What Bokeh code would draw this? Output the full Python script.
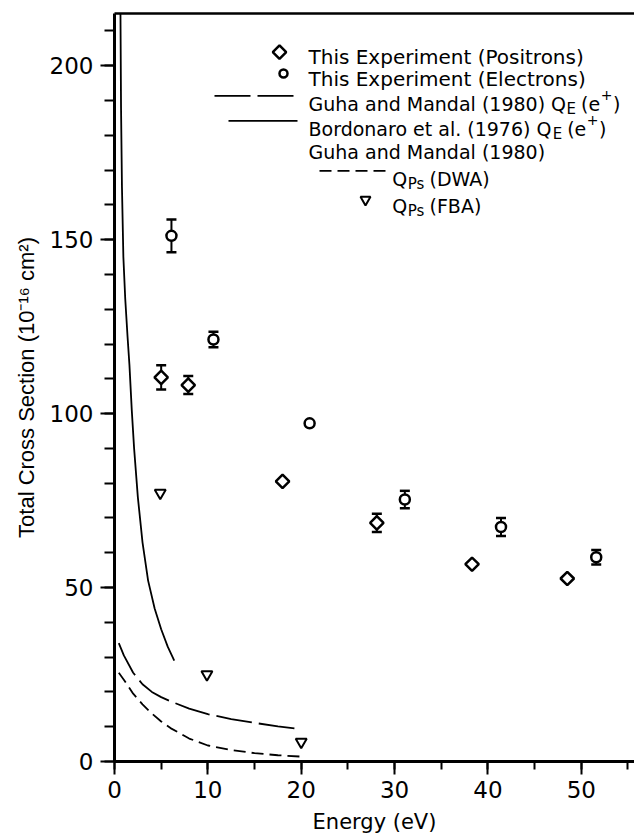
import numpy as np
from bokeh.plotting import figure
from bokeh.models import (ColumnDataSource, Whisker, TeeHead, Label, Arrow, LinearAxis,
                          Range1d, FixedTicker, SingleIntervalTicker)
from bokeh.embed import file_html
from bokeh.resources import INLINE

# ---------------- data ----------------
pos_energy = [5.0, 7.9, 18.0, 28.1, 38.3, 48.5]
pos_q = [110.4, 108.2, 80.5, 68.6, 56.7, 52.6]
pos_err = [3.5, 2.6, 0.0, 2.6, 0.0, 0.0]

ele_energy = [6.1, 10.6, 20.9, 31.1, 41.4, 51.6]
ele_q = [151.1, 121.3, 97.2, 75.3, 67.4, 58.7]
ele_err = [4.7, 2.2, 0.0, 2.5, 2.6, 2.1]

fba_energy = [4.9, 9.9, 20.0]
fba_q = [77.2, 25.0, 5.6]

bord_energy = [0.64, 0.7, 0.8, 0.95, 1.15, 1.4, 1.6, 1.85, 2.1, 2.5, 3.0, 3.6, 4.3, 5.0, 5.7, 6.4]
bord_q = [215, 188, 165, 145, 133, 122, 114, 101, 90, 76, 63, 52, 44, 38, 33, 29]

guha_energy = [0.46, 1, 2, 3, 4, 5, 6, 8, 10, 12.5, 15, 17.5, 20]
guha_q = [34.0, 30.5, 25.5, 22.2, 20.0, 18.5, 17.3, 15.2, 13.6, 12.2, 11.1, 10.1, 9.3]

dwa_energy = [0.46, 1, 2, 3, 4, 5, 6, 8, 10, 12.5, 15, 17.5, 20]
dwa_q = [25.5, 23.5, 19.5, 16.4, 13.8, 11.5, 9.6, 6.6, 4.6, 3.3, 2.4, 1.8, 1.4]

x_label = "Energy (eV)"
y_label = "Total Cross Section (10\u207b\u00b9\u2076 cm\u00b2)"

# ---------------- layout constants ----------------
X_END = 55.7
Y_END = 215
FL, FB, FW, FH = 114, 764, 520, 751   # frame left / bottom / width / height (page px)

p = figure(width=634, height=836, x_range=Range1d(0, X_END), y_range=Range1d(0, Y_END),
           output_backend="svg", toolbar_location=None,
           min_border_left=114, min_border_right=0, min_border_top=13, min_border_bottom=72,
           x_axis_label=x_label, y_axis_label=y_label)
p.grid.visible = False
p.outline_line_color = None
p.background_fill_color = "white"
p.border_fill_color = "white"

xa = p.xaxis[0]
ya = p.yaxis[0]
xa.ticker = SingleIntervalTicker(interval=10, num_minor_ticks=2)
ya.ticker = SingleIntervalTicker(interval=50, num_minor_ticks=5)
for ax in (xa, ya):
    ax.axis_line_width = 3
    ax.axis_line_color = "black"
    ax.major_tick_line_width = 2
    ax.minor_tick_line_width = 2
    ax.major_tick_line_color = "black"
    ax.minor_tick_line_color = "black"
    ax.major_tick_in = 0
    ax.minor_tick_in = 0
    ax.major_label_text_font = "DejaVu Sans"
    ax.major_label_text_font_size = "23px"
    ax.major_label_text_color = "black"
    ax.axis_label_text_font_style = "normal"
    ax.axis_label_text_color = "black"
xa.major_tick_out = 13
xa.minor_tick_out = 8
xa.major_label_standoff = 6
xa.axis_label_text_font = "DejaVu Sans"
xa.axis_label_text_font_size = "21px"
xa.axis_label_standoff = 9
ya.major_tick_out = 14
ya.minor_tick_out = 10
ya.major_label_standoff = 7
ya.axis_label_text_font = "Liberation Sans"
ya.axis_label_text_font_size = "22px"
ya.axis_label_standoff = 8

top = LinearAxis(ticker=FixedTicker(ticks=[], minor_ticks=[]), axis_line_width=2.5,
                 axis_line_color="black", major_label_text_font_size="0px",
                 major_tick_out=0, minor_tick_out=0, major_label_standoff=0)
p.add_layout(top, "above")

# ---------------- curves ----------------
p.line(bord_energy, bord_q, line_width=1.8, line_color="black")
p.line(guha_energy, guha_q, line_width=1.8, line_color="black", line_dash="36 7")
p.line(dwa_energy, dwa_q, line_width=1.8, line_color="black", line_dash="12 6")


# ---------------- error bars ----------------
def err_source(xs, ys, es):
    keep = [i for i, e in enumerate(es) if e > 0]
    return ColumnDataSource(dict(x=[xs[i] for i in keep],
                                 lower=[ys[i] - es[i] for i in keep],
                                 upper=[ys[i] + es[i] for i in keep]))


for src in (err_source(pos_energy, pos_q, pos_err), err_source(ele_energy, ele_q, ele_err)):
    w = Whisker(source=src, base="x", lower="lower", upper="upper",
                line_width=2, line_color="black", level="underlay",
                upper_head=TeeHead(size=10, line_width=2.5, line_color="black"),
                lower_head=TeeHead(size=10, line_width=2.5, line_color="black"))
    p.add_layout(w)

# ---------------- markers ----------------
p.scatter(pos_energy, pos_q, marker="square", angle=np.pi / 4, size=9.5,
          fill_color="white", line_color="black", line_width=2.5)
p.scatter(ele_energy, ele_q, marker="circle", size=10,
          fill_color="white", line_color="black", line_width=2.5)
p.scatter(fba_energy, fba_q, marker="inverted_triangle", size=11,
          fill_color="white", line_color="black", line_width=2)

# ---------------- hand-made legend ----------------
W = {' ': .318, '(': .390, ')': .390, '+': .838, '.': .318,
     'A': .684, 'B': .686, 'D': .770, 'E': .632, 'F': .575, 'G': .776, 'M': .863,
     'P': .603, 'Q': .787, 'T': .611, 'W': .989,
     'a': .613, 'b': .635, 'c': .550, 'd': .635, 'e': .615, 'g': .635, 'h': .634,
     'i': .278, 'l': .278, 'm': .974, 'n': .634, 'o': .612, 'p': .635, 'r': .411,
     's': .521, 't': .392, 'u': .634, 'x': .592, 'y': .592}


def tw(s, size):
    return sum(W.get(c, .636) for c in s) * size


def sx(px):
    return px - FL


def sy(py):
    return FB - py


def dx(px):
    return (px - FL) / FW * X_END


def dy(py):
    return (FB - py) / FH * Y_END


FS = 19
SUB = 15


def put(text, px, py, size=FS):
    p.add_layout(Label(x=sx(px), y=sy(py), x_units="screen", y_units="screen", text=text,
                       text_font="DejaVu Sans", text_font_size=f"{size}px",
                       text_color="black", text_baseline="alphabetic", text_align="left"))
    return px + tw(text, size)


def rich(pieces, px, py):
    # pieces: (text, kind, gap) with kind "n" normal, "b" subscript, "p" superscript
    for text, kind, gap in pieces:
        px += gap
        if kind == "n":
            px = put(text, px, py)
        elif kind == "b":
            px = put(text, px, py + 5, SUB)
        else:
            px = put(text, px, py - 9, 14)


def hline(x0, x1, py, dash):
    p.add_layout(Arrow(x_start=sx(x0), y_start=sy(py), x_end=sx(x1), y_end=sy(py),
                       start_units="screen", end_units="screen", start=None, end=None,
                       line_width=1.8, line_color="black", line_dash=dash))


TX = 308
# row 1
p.scatter([dx(279)], [dy(51.7)], marker="square", angle=np.pi / 4, size=9.5,
          fill_color="white", line_color="black", line_width=2.5)
put("This Experiment (Positrons)", TX, 59, 20)
# row 2
p.scatter([dx(283)], [dy(73.3)], marker="circle", size=8,
          fill_color="white", line_color="black", line_width=2.5)
put("This Experiment (Electrons)", TX, 81, 20)
# row 3
hline(214, 297, 98.3, "36 7")
rich([("Guha and Mandal (1980) Q", "n", 0), ("E", "b", 0.5), ("(e", "n", 5),
      ("+", "p", 0.5), (")", "n", 0.5)], TX, 106)
# row 4
hline(228, 297, 123.3, "solid")
rich([("Bordonaro et al. (1976) Q", "n", 0), ("E", "b", 0.5), ("(e", "n", 5),
      ("+", "p", 0.5), (")", "n", 0.5)], TX, 131)
# row 5
put("Guha and Mandal (1980)", TX, 154)
# row 6
hline(319, 385, 173.3, "12 6")
rich([("Q", "n", 0), ("Ps", "b", 0.5), ("(DWA)", "n", 5)], 391.7, 181)
# row 7
p.scatter([dx(365)], [dy(200)], marker="inverted_triangle", size=10,
          fill_color="white", line_color="black", line_width=2)
rich([("Q", "n", 0), ("Ps", "b", 0.5), ("(FBA)", "n", 5)], 391.7, 208)

open("out.html", "w").write(file_html(p, INLINE))
